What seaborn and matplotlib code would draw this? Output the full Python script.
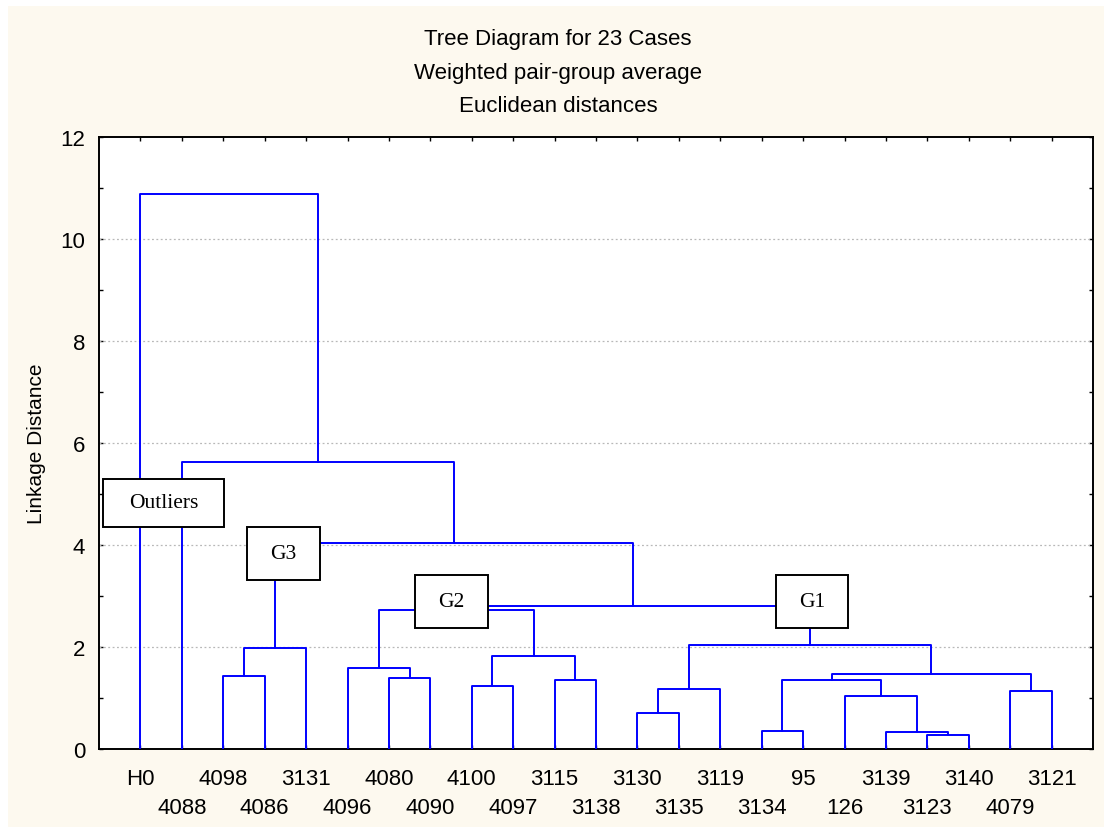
import numpy as np
import pandas as pd
import matplotlib
matplotlib.use("Agg")
import matplotlib.pyplot as plt
from matplotlib.patches import Rectangle
import seaborn as sns

# ---- data ----
leaf_labels = ["H0", "4088", "4098", "4086", "3131", "4096", "4080", "4090",
               "4100", "4097", "3115", "3138", "3130", "3135", "3119", "3134",
               "95", "126", "3139", "3123", "3140", "4079", "3121"]
# linkage: nodes 0..22 are leaves (in plot order); merge k creates node 23+k
merge_a = [19, 18, 15, 12, 17, 21, 26, 8, 10, 25, 6, 2, 32, 5, 30, 34, 29, 36, 40, 38, 1, 0]
merge_b = [20, 23, 16, 13, 24, 22, 14, 9, 11, 27, 7, 3, 28, 33, 31, 4, 35, 37, 39, 41, 42, 43]
merge_h = [0.28, 0.33, 0.35, 0.71, 1.04, 1.14, 1.18, 1.24, 1.35, 1.36, 1.39, 1.43,
           1.47, 1.58, 1.82, 1.98, 2.03, 2.73, 2.81, 4.04, 5.62, 10.88]
group_names = ["Outliers", "G3", "G2", "G1"]

title_lines = ["Tree Diagram for 23 Cases", "Weighted pair-group average", "Euclidean distances"]
y_label = "Linkage Distance"

# ---- build dendrogram segments ----
n = len(leaf_labels)
node_x = {i: float(i + 1) for i in range(n)}
node_h = {i: 0.0 for i in range(n)}
rows = []
for k, (a, b, h) in enumerate(zip(merge_a, merge_b, merge_h)):
    xa, xb = node_x[a], node_x[b]
    ha, hb = node_h[a], node_h[b]
    for px, py in [(xa, ha), (xa, h), (xb, h), (xb, hb)]:
        rows.append({"x": px, "y": py, "seg": k})
    node_x[n + k] = (xa + xb) / 2
    node_h[n + k] = h
df = pd.DataFrame(rows)

# ---- style ----
sns.set_theme(style="white")
plt.rcParams["font.family"] = ["Liberation Sans", "DejaVu Sans"]
plt.rcParams["text.color"] = "black"
plt.rcParams["axes.labelcolor"] = "black"

W, H = 1104, 828
fig = plt.figure(figsize=(W / 100, H / 100), dpi=100, facecolor="white")
# cream background panel
fig.patches.append(Rectangle((8 / W, 0), 1 - 8 / W, 1 - 7 / H, transform=fig.transFigure,
                             facecolor="#fdf9ef", edgecolor="none", zorder=-10))

ax = fig.add_axes([99 / W, 78 / H, (1093 - 99) / W, (750 - 138) / H])
ax.set_facecolor("white")

sns.lineplot(data=df, x="x", y="y", units="seg", estimator=None, sort=False,
             color="#0000ff", lw=1.4, ax=ax, legend=False, zorder=3)

ax.set_xlim(0, n + 1)
ax.set_ylim(0, 12)

# grid lines at even values
for g in [2, 4, 6, 8, 10]:
    ax.axhline(g, color="#b8b8b8", lw=0.9, ls=(0, (1.5, 2)), zorder=1)

# x ticks: two rows of labels
pos = np.arange(1, n + 1)
ax.set_xticks(pos[0::2])
ax.set_xticklabels(leaf_labels[0::2])
ax.set_xticks(pos[1::2], minor=True)
ax.set_xticklabels(leaf_labels[1::2], minor=True)
ax.tick_params(axis="x", which="major", direction="in", length=3, width=1, pad=13.5,
               labelsize=16, top=True, bottom=True, colors="black")
ax.tick_params(axis="x", which="minor", direction="in", length=3, width=1, pad=34.5,
               labelsize=16, top=True, bottom=True, colors="black")

ax.set_yticks(np.arange(0, 13, 2))
ax.set_yticks(np.arange(1, 12, 2), minor=True)
ax.tick_params(axis="y", which="both", direction="in", length=3, width=1, pad=10,
               labelsize=16, left=True, right=True, colors="black")

for s in ax.spines.values():
    s.set_visible(True)
    s.set_color("black")
    s.set_linewidth(1.4)

ax.set_xlabel("")
ax.set_ylabel(y_label, fontsize=15, labelpad=10)

# title lines
for i, t in enumerate(title_lines):
    fig.text(558 / W, 1 - (40 + 33.5 * i) / H, t, ha="center", va="center", fontsize=16)

# group boxes (pixel-estimated corners converted to data coords)
def px2data(px, py):
    return (px - 99) / ((1093 - 99) / (n + 1)), (750 - py) / 51.0

box_px = [(103, 480, 224, 528), (247, 528, 320, 581), (415, 576, 488, 629), (776, 576, 848, 629)]
for name, (x0, y0, x1, y1) in zip(group_names, box_px):
    dx0, dy1 = px2data(x0, y1)
    dx1, dy0 = px2data(x1, y0)
    ax.add_patch(Rectangle((dx0, dy1), dx1 - dx0, dy0 - dy1, facecolor="white",
                           edgecolor="black", lw=1.4, zorder=5))
    ax.text((dx0 + dx1) / 2, (dy0 + dy1) / 2, name, ha="center", va="center",
            fontsize=15.5, family=["Liberation Serif", "DejaVu Serif"], zorder=6)

fig.savefig("out.png", dpi=100, facecolor=fig.get_facecolor())
